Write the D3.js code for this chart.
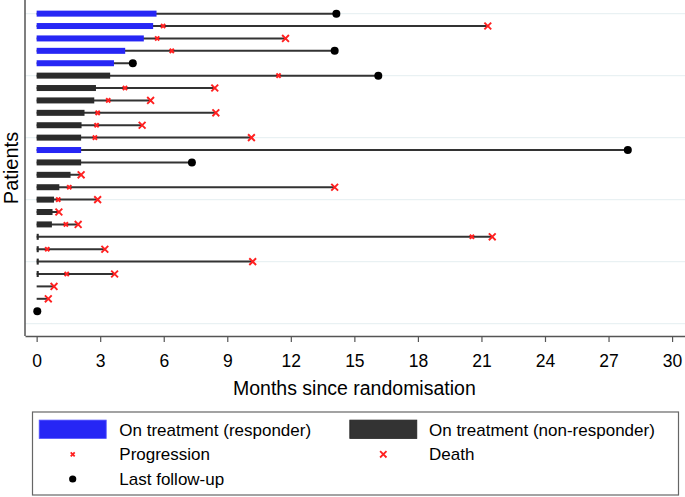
<!DOCTYPE html>
<html>
<head>
<meta charset="utf-8">
<script src="https://cdn.jsdelivr.net/npm/d3@7/dist/d3.min.js"></script>
<style>
  html, body { margin: 0; padding: 0; background: #fff; }
  svg { display: block; font-family: "Liberation Sans", Arial, Helvetica, sans-serif; }
</style>
</head>
<body>
<svg id="chart" width="685" height="497"></svg>
<script>
// ---- Data (top row first) ----
const patientIds   = [25, 24, 23, 22, 21, 20, 19, 18, 17, 16, 15, 14, 13, 12, 11, 10, 9, 8, 7, 6, 5, 4, 3, 2, 1];
const treatmentEnd = [5.66, 5.50, 5.06, 4.18, 3.65, 3.47, 2.80, 2.72, 2.26, 2.12, 2.10, 2.10, 2.10, 1.60, 1.07, 0.82, 0.75, 0.72, 0.10, 0.10, 0.10, 0.10, null, null, null];
const responder    = [true, true, true, true, true, false, false, false, false, false, false, true, false, false, false, false, false, false, false, false, false, false, false, false, false];
const progression  = [null, 5.97, 5.69, 6.38, null, 11.42, 4.17, 3.38, 2.88, 2.83, 2.75, null, null, null, 1.54, 1.02, null, 1.38, 20.55, 0.50, null, 1.42, null, null, null];
const death        = [null, 21.30, 11.75, null, null, null, 8.41, 5.38, 8.46, 4.98, 10.14, null, null, 2.10, 14.07, 2.88, 1.05, 1.96, 21.51, 3.22, 10.20, 3.68, 0.82, 0.55, null];
const lastFollowUp = [14.15, null, null, 14.07, 4.54, 16.13, null, null, null, null, null, 27.91, 7.33, null, null, null, null, null, null, null, null, null, null, null, 0.03];
const xTicks = [0, 3, 6, 9, 12, 15, 18, 21, 24, 27, 30];
const gridVals = [0, 5, 10, 15, 20, 25];

const legendItems = [
  { label: "On treatment (responder)", kind: "bar-resp" },
  { label: "On treatment (non-responder)", kind: "bar-non" },
  { label: "Progression", kind: "prog" },
  { label: "Death", kind: "death" },
  { label: "Last follow-up", kind: "dot" }
];

(function () {
const rows = patientIds.map((id, i) => ({
  id, treat: treatmentEnd[i], resp: responder[i], prog: progression[i], death: death[i], fu: lastFollowUp[i]
}));

// ---- Layout ----
const svg = d3.select("#chart");
const pLeft = 25, pRight = 685, pTop = 0, pBottom = 336;
const x = d3.scaleLinear().domain([-0.55, 30.61]).range([pLeft, pRight]);
const y = d3.scaleLinear().domain([-1, 26.1]).range([pBottom, pTop]);

const BLUE = "#2626f5", DARK = "#2b2b2b", RED = "#ff2020", LINE = "#333";

// gridlines
svg.append("g").selectAll("line").data(gridVals).join("line")
  .attr("x1", pLeft).attr("x2", pRight)
  .attr("y1", d => y(d)).attr("y2", d => y(d))
  .attr("stroke", "#e9f1f3").attr("stroke-width", 1.2);

// follow-up lines
const g = svg.append("g");
rows.forEach(r => {
  const ends = [r.treat, r.prog, r.death, r.fu].filter(v => v != null);
  const end = d3.max(ends);
  if (end > 0.05) {
    g.append("line")
      .attr("x1", x(0)).attr("x2", x(end))
      .attr("y1", y(r.id)).attr("y2", y(r.id))
      .attr("stroke", LINE).attr("stroke-width", 2);
  }
});

// treatment bars
const barH = 6;
g.selectAll("rect.bar").data(rows.filter(r => r.treat != null)).join("rect")
  .attr("class", "bar")
  .attr("x", x(0)).attr("y", d => y(d.id) - barH / 2)
  .attr("width", d => x(d.treat) - x(0)).attr("height", barH)
  .attr("fill", d => d.resp ? BLUE : DARK);

function cross(sel, cx, cy, s, w) {
  sel.append("path")
    .attr("d", `M${cx - s},${cy - s}L${cx + s},${cy + s}M${cx - s},${cy + s}L${cx + s},${cy - s}`)
    .attr("stroke", RED).attr("stroke-width", w).attr("fill", "none");
}

// progression markers
rows.filter(r => r.prog != null).forEach(r => cross(g, x(r.prog), y(r.id), 2.1, 2));
// death markers
rows.filter(r => r.death != null).forEach(r => cross(g, x(r.death), y(r.id), 3.4, 1.9));
// last follow-up
g.selectAll("circle.fu").data(rows.filter(r => r.fu != null)).join("circle")
  .attr("class", "fu")
  .attr("cx", d => x(d.fu)).attr("cy", d => y(d.id)).attr("r", 4)
  .attr("fill", "#000");

// axes
svg.append("line").attr("x1", pLeft).attr("x2", pLeft).attr("y1", 0).attr("y2", pBottom)
  .attr("stroke", "#555").attr("stroke-width", 1.5);

const xAxis = svg.append("g").attr("transform", `translate(0,${pBottom})`)
  .call(d3.axisBottom(x).tickValues(xTicks).tickSize(6).tickSizeOuter(0).tickFormat(d3.format("d")));
xAxis.select(".domain").attr("stroke", "#555").attr("stroke-width", 1.5);
xAxis.selectAll(".tick line").attr("stroke", "#555").attr("stroke-width", 1.2);
xAxis.selectAll(".tick text").attr("y", 30.7).attr("dy", 0)
  .attr("font-size", 17.5).attr("fill", "#000")
  .attr("font-family", '"Liberation Sans", Arial, sans-serif');

svg.append("text").attr("x", (x(0) + x(30)) / 2).attr("y", 395)
  .attr("text-anchor", "middle").attr("font-size", 19.5).attr("fill", "#000")
  .text("Months since randomisation");

svg.append("text").attr("transform", `translate(18,168) rotate(-90)`)
  .attr("text-anchor", "middle").attr("font-size", 20).attr("fill", "#000")
  .text("Patients");

// legend
const lg = svg.append("g");
lg.append("rect").attr("x", 32.5).attr("y", 412).attr("width", 646).attr("height", 83)
  .attr("fill", "#fff").attr("stroke", "#666").attr("stroke-width", 1.2);

const legendPos = {
  "bar-resp": { mx: 72.7, tx: 119.3, cy: 429.3, base: 436 },
  "bar-non":  { mx: 383.3, tx: 429, cy: 429.3, base: 436 },
  "prog":     { mx: 72.7, tx: 119.3, cy: 454.3, base: 460 },
  "death":    { mx: 383.3, tx: 429, cy: 454.3, base: 460 },
  "dot":      { mx: 72.7, tx: 119.3, cy: 479, base: 485 }
};
legendItems.forEach(item => {
  const p = legendPos[item.kind];
  if (item.kind === "bar-resp" || item.kind === "bar-non") {
    lg.append("rect").attr("x", p.mx - 33.5).attr("y", p.cy - 9.2).attr("width", 67).attr("height", 18.3)
      .attr("fill", item.kind === "bar-resp" ? BLUE : "#333")
      .attr("stroke", item.kind === "bar-resp" ? "#5050ff" : "#222").attr("stroke-width", 0.8);
  } else if (item.kind === "prog") {
    cross(lg, p.mx, p.cy, 2, 1.8);
  } else if (item.kind === "death") {
    cross(lg, p.mx, p.cy, 3.2, 1.8);
  } else {
    lg.append("circle").attr("cx", p.mx).attr("cy", p.cy).attr("r", 3.6).attr("fill", "#000");
  }
  lg.append("text").attr("x", p.tx).attr("y", p.base).attr("font-size", 17).attr("fill", "#000")
    .text(item.label);
});
})();
</script>
</body>
</html>
